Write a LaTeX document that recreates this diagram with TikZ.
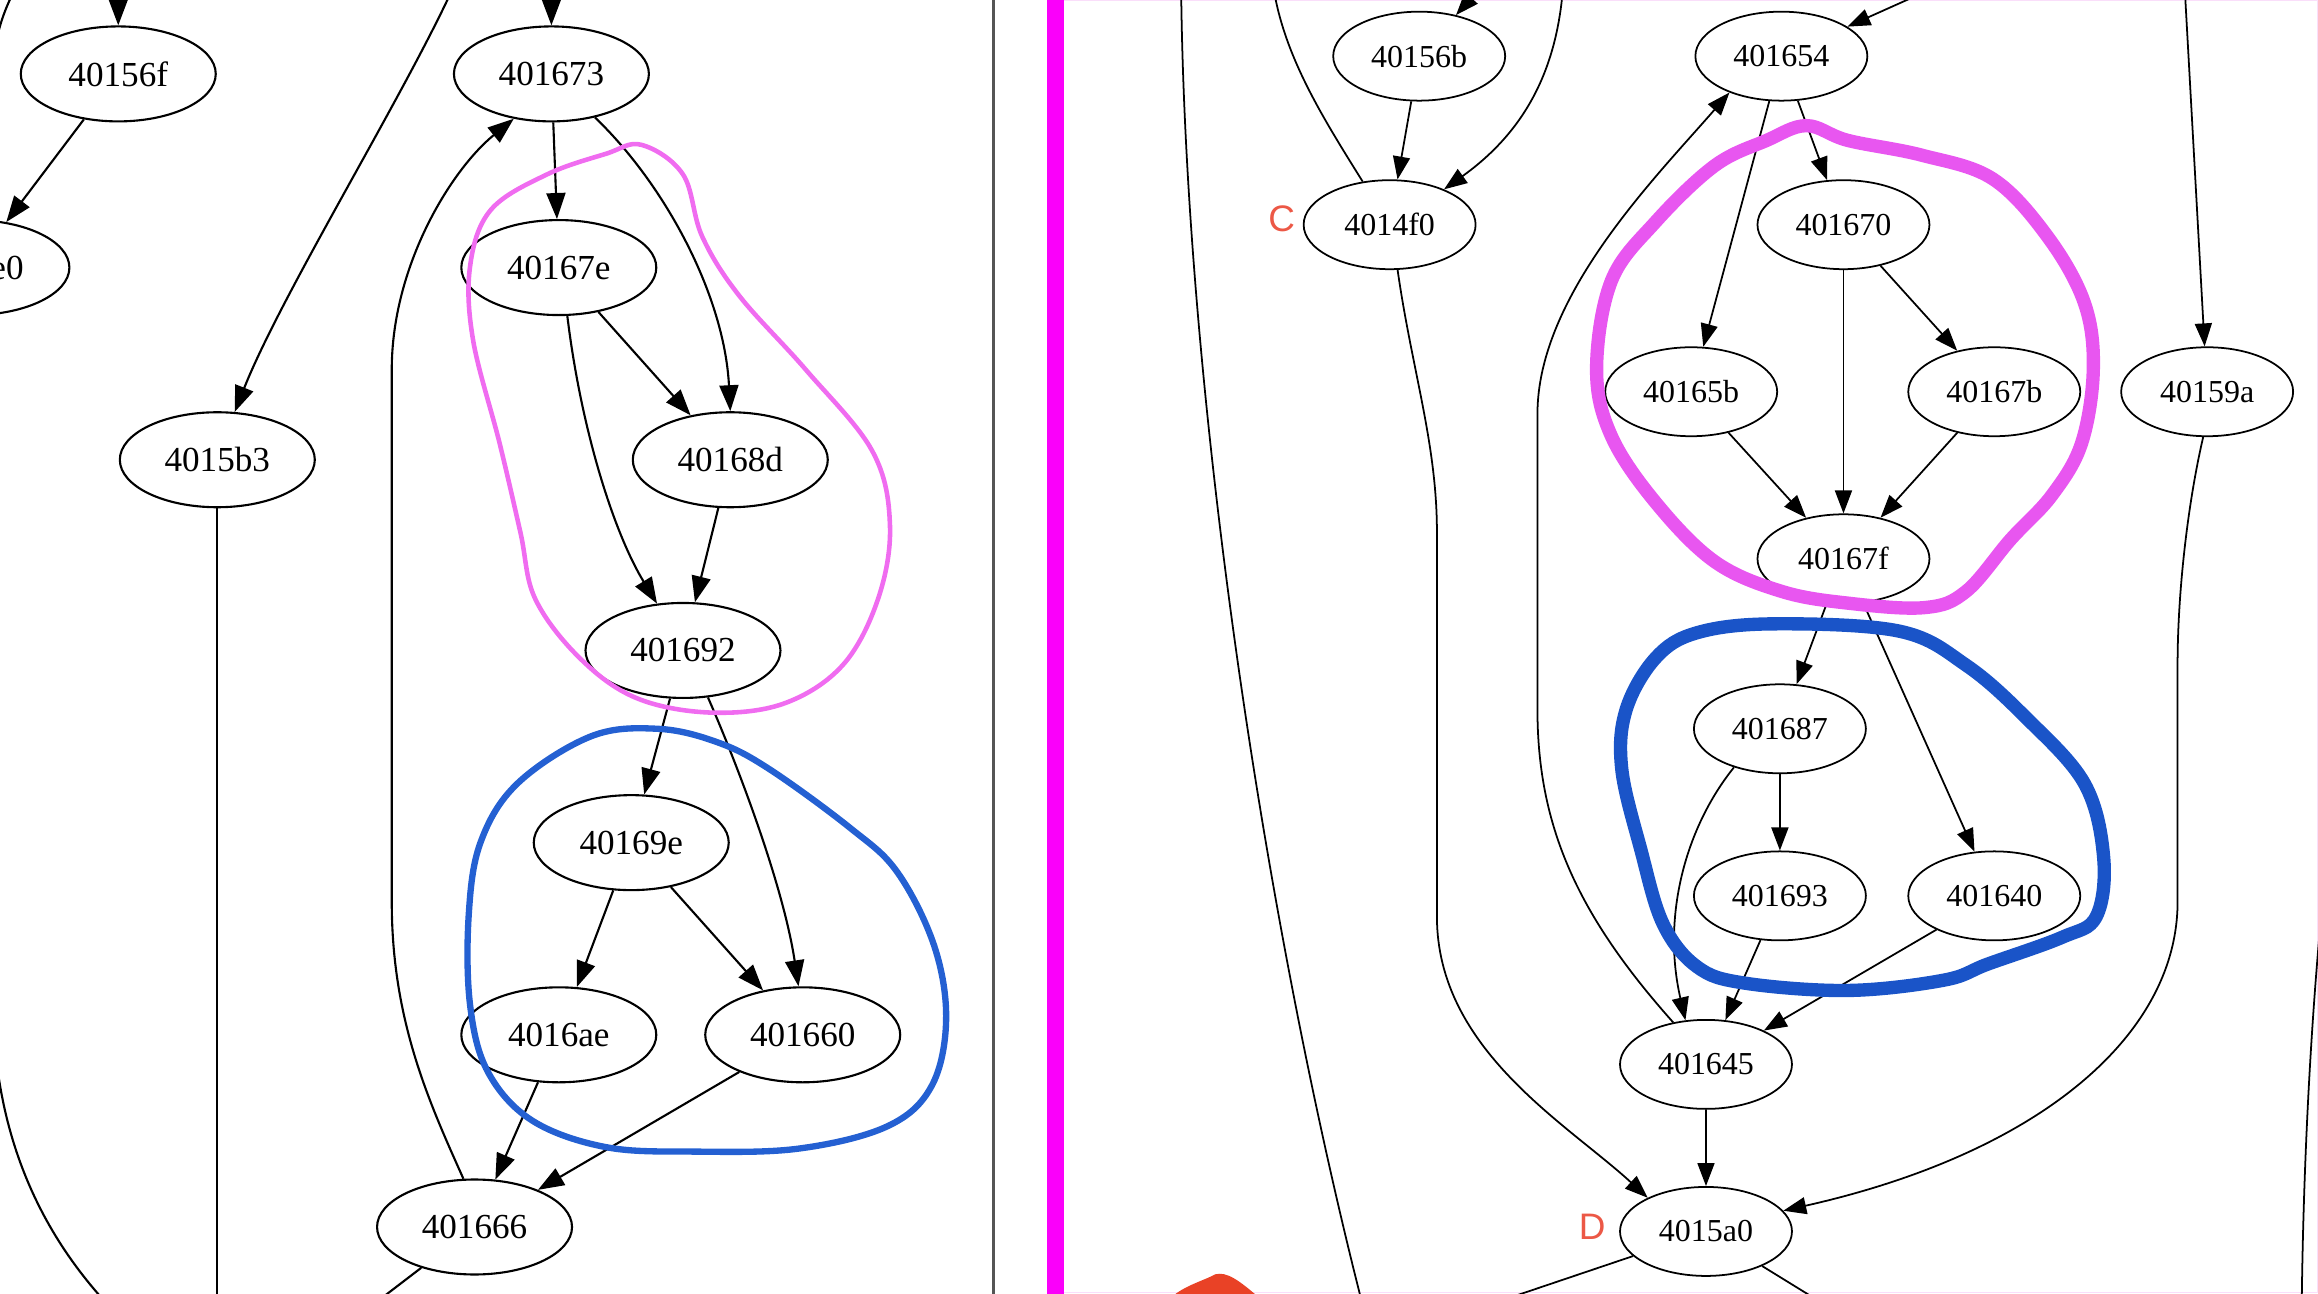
\documentclass[tikz,border=0pt]{standalone}
\usepackage{fontspec}
\setmainfont{Liberation Serif}
\newfontfamily\tagfont{Liberation Sans}
\usetikzlibrary{shapes.geometric,arrows.meta}
\definecolor{loopL}{RGB}{240,108,240}
\definecolor{loopR}{RGB}{232,86,240}
\definecolor{blueL}{RGB}{36,96,210}
\definecolor{blueR}{RGB}{26,84,200}
\definecolor{tagred}{RGB}{236,88,70}
\definecolor{blobred}{RGB}{233,66,38}
\definecolor{barmag}{RGB}{250,0,250}
\definecolor{divgray}{RGB}{85,85,85}
\definecolor{framepink}{RGB}{250,222,250}

\begin{document}
\begin{tikzpicture}[x=0.014783cm, y=-0.014783cm, line join=round,
    lblock/.style={ellipse, draw, line width=0.6pt, minimum width=1.95cm, minimum height=0.95cm, inner sep=0pt, font=\fontsize{10}{12}\selectfont},
    rblock/.style={ellipse, draw, line width=0.5pt, minimum width=1.72cm, minimum height=0.89cm, inner sep=0pt, font=\fontsize{9.1}{11}\selectfont},
    ledge/.style={line width=0.6pt, -{Triangle[length=2.6mm,width=1.9mm]}},
    redge/.style={line width=0.5pt, -{Triangle[length=2.3mm,width=1.7mm]}},
    lline/.style={line width=0.6pt},
    rline/.style={line width=0.5pt},
    tag/.style={text=tagred, font=\tagfont\fontsize{10.5}{12}\selectfont}]
    \useasboundingbox (0,0) rectangle (1568,875);
    \clip (0,0) rectangle (1568,875);

    % Khung ngăn cách hai đồ thị
    \draw[divgray, line width=0.85pt] (672,0) -- (672,875);
    \fill[barmag] (708.5,0) rectangle (719.8,875);
    \draw[framepink, line width=0.4pt] (720,0.5) -- (1567.5,0.5) -- (1567.5,874.5) -- (720,874.5);

    % Đồ thị bên trái
    \begin{scope}
        \node[lblock] (v40156f) at (80,50) {40156f};
        \node[lblock] (v4015e0) at (-19,181) {4015e0};
        \node[lblock] (v401673) at (373,50) {401673};
        \node[lblock] (v40167e) at (378,181) {40167e};
        \node[lblock] (v4015b3) at (147,311) {4015b3};
        \node[lblock] (v40168d) at (494,311) {40168d};
        \node[lblock] (v401692) at (462,440) {401692};
        \node[lblock] (v40169e) at (427,570) {40169e};
        \node[lblock] (v4016ae) at (378,700) {4016ae};
        \node[lblock] (v401660) at (543,700) {401660};
        \node[lblock] (v401666) at (321,830) {401666};
        % Đầu mút ra ngoài khung
        \coordinate (inA) at (80,-5);
        \coordinate (inB) at (373,-5);
        \coordinate (inC) at (305,-5);
        \coordinate (outA) at (147,880);
        \coordinate (outB) at (240,892);
        \coordinate (arcA1) at (-4,700);
        \coordinate (arcA2) at (82,892);
        \coordinate (arcB1) at (-3,30);
        \coordinate (arcB2) at (9,-5);

        \draw[ledge] (inA) -- (v40156f);
        \draw[ledge] (inB) -- (v401673);
        \draw[ledge] (v40156f) -- (v4015e0);
        \draw[ledge] (inC) .. controls (270,70) and (190,200) .. (v4015b3.70);
        \draw[lline] (v4015b3) -- (outA);
        \draw[ledge] (v401673) -- (v40167e);
        \draw[ledge] (v401673.-45) .. controls (450,125) and (490,200) .. (v40168d.north);
        \draw[ledge] (v40167e) -- (v40168d);
        \draw[ledge] (v40167e.-80) .. controls (393,290) and (415,360) .. (v401692.119);
        \draw[ledge] (v40168d) -- (v401692);
        \draw[ledge] (v401692) -- (v40169e);
        \draw[ledge] (v401692.-62) .. controls (500,520) and (530,600) .. (v401660.95);
        \draw[ledge] (v40169e) -- (v4016ae);
        \draw[ledge] (v40169e) -- (v401660);
        \draw[ledge] (v4016ae) -- (v401666);
        \draw[ledge] (v401660) -- (v401666);
        \draw[ledge] (v401666.103) .. controls (290,745) and (265,690) .. (265,610) -- (265,250) .. controls (265,180) and (305,115) .. (v401673.-130);
        \draw[lline] (v401666) -- (outB);
        \draw[lline] (arcA1) .. controls (2,790) and (40,850) .. (arcA2);
        \draw[lline] (arcB1) .. controls (0,15) and (4,5) .. (arcB2);
    \end{scope}

    % Đồ thị bên phải
    \begin{scope}
        \node[rblock] (v40156b) at (960,38) {40156b};
        \node[rblock] (v401654) at (1205,38) {401654};
        \node[rblock] (v4014f0) at (940,152) {4014f0};
        \node[rblock] (v401670) at (1247,152) {401670};
        \node[rblock] (v40165b) at (1144,265) {40165b};
        \node[rblock] (v40167b) at (1349,265) {40167b};
        \node[rblock] (v40159a) at (1493,265) {40159a};
        \node[rblock] (v40167f) at (1247,378) {40167f};
        \node[rblock] (v401687) at (1204,493) {401687};
        \node[rblock] (v401693) at (1204,606) {401693};
        \node[rblock] (v401640) at (1349,606) {401640};
        \node[rblock] (v401645) at (1154,720) {401645};
        \node[rblock] (v4015a0) at (1154,833) {4015a0};
        \node[tag] (tagC) at (867,148) {C};
        \node[tag] (tagD) at (1077,830) {D};
        % Đầu mút ra ngoài khung
        \coordinate (inD) at (1003,-10);
        \coordinate (inE) at (1310,-9);
        \coordinate (inF) at (1057,-5);
        \coordinate (outC) at (862,-5);
        \coordinate (railA1) at (799,-5);
        \coordinate (railA2) at (921,880);
        \coordinate (inG) at (1478,-5);
        \coordinate (outD) at (1000,885);
        \coordinate (outE) at (1240,886);
        \coordinate (railB1) at (1572,600);
        \coordinate (railB2) at (1557,880);

        \draw[redge] (inD) -- (v40156b);
        \draw[redge] (inE) -- (v401654);
        \draw[redge] (v40156b) -- (v4014f0);
        \draw[redge] (inF) .. controls (1052,50) and (1030,90) .. (v4014f0.33);
        \draw[rline] (v4014f0.122) .. controls (895,80) and (870,40) .. (outC);
        \draw[rline] (railA1) .. controls (802,250) and (850,600) .. (railA2);
        \draw[redge] (v4014f0.-80) .. controls (955,250) and (972,300) .. (972,360) -- (972,620) .. controls (972,710) and (1060,760) .. (v4015a0.150);
        \draw[redge] (v401645.128) .. controls (1068,620) and (1040,560) .. (1040,480) -- (1040,280) .. controls (1040,200) and (1120,120) .. (v401654.-145);
        \draw[redge] (v401654) -- (v40165b);
        \draw[redge] (v401654) -- (v401670);
        \draw[redge] (v401670) -- (v40167f);
        \draw[redge] (v401670) -- (v40167b);
        \draw[redge] (v40165b) -- (v40167f);
        \draw[redge] (v40167b) -- (v40167f);
        \draw[redge] (inG) -- (v40159a);
        \draw[redge] (v40159a.-95) .. controls (1480,340) and (1473,400) .. (1473,450) -- (1473,610) .. controls (1473,700) and (1380,780) .. (v4015a0.15);
        \draw[redge] (v40167f) -- (v401687);
        \draw[redge] (v40167f) -- (v401640);
        \draw[redge] (v401687) -- (v401693);
        \draw[redge] (v401687.-140) .. controls (1140,560) and (1124,620) .. (v401645.115);
        \draw[redge] (v401693) -- (v401645);
        \draw[redge] (v401640) -- (v401645);
        \draw[redge] (v401645) -- (v4015a0);
        \draw[rline] (v4015a0) -- (outD);
        \draw[rline] (v4015a0) -- (outE);
        \draw[rline] (railB1) .. controls (1562,700) and (1558,800) .. (railB2);
    \end{scope}

    % Nét khoanh tay
    \draw[loopL, line width=1.3pt] plot[smooth cycle, tension=0.6] coordinates {(434,98) (462,118) (475,160) (500,200) (545,250) (590,305) (602,355) (594,405) (570,450) (530,476) (480,482) (430,472) (392,445) (362,405) (352,360) (338,300) (320,230) (318,180) (332,142) (370,118) (410,104)};
    \draw[blueL, line width=1.8pt] plot[smooth cycle, tension=0.6] coordinates {(445,493) (485,502) (520,520) (575,560) (607,590) (632,640) (640,690) (630,735) (600,762) (540,777) (470,779) (410,776) (360,758) (330,725) (318,680) (317,620) (325,570) (350,530) (400,498)};
    \draw[loopR, line width=3.8pt] plot[smooth cycle, tension=0.6] coordinates {(1222,85) (1250,95) (1300,105) (1348,121) (1385,160) (1410,205) (1416,250) (1408,300) (1388,335) (1360,365) (1330,400) (1302,411) (1250,408) (1205,400) (1160,380) (1120,340) (1090,295) (1080,250) (1090,190) (1120,150) (1160,112) (1195,95)};
    \draw[blueR, line width=3.8pt] plot[smooth cycle, tension=0.6] coordinates {(1148,428) (1200,422) (1285,427) (1330,450) (1370,485) (1410,530) (1423,580) (1418,620) (1395,634) (1345,652) (1315,663) (1250,670) (1180,665) (1148,654) (1125,625) (1110,575) (1097,520) (1100,480) (1120,445)};
    \fill[blobred] (792,878) .. controls (800,870) and (815,866) .. (822,862) .. controls (830,860) and (838,866) .. (852,878) -- cycle;
\end{tikzpicture}
\end{document}
